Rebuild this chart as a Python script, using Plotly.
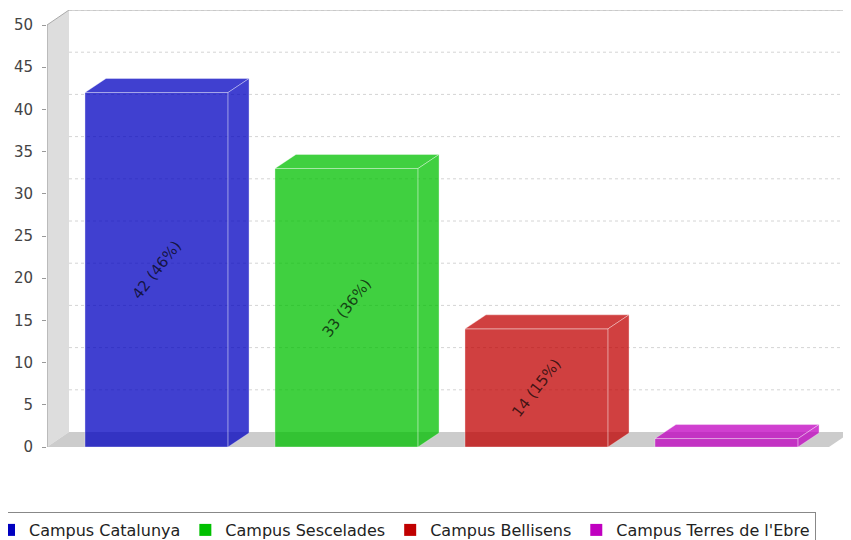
import plotly.graph_objects as go

# ---- data ----
categories = ["Campus Catalunya", "Campus Sescelades", "Campus Bellisens", "Campus Terres de l'Ebre"]
values = [42, 33, 14, 1]
y_ticks = [0, 5, 10, 15, 20, 25, 30, 35, 40, 45, 50]

# ---- styling ----
base_rgb = [(0, 0, 192), (0, 192, 0), (192, 0, 0), (192, 0, 192)]
ALPHA = 0.75
FONT = "DejaVu Sans"

# page offset of the plot div (browser default body margin)
OFF = 8
WIN_W, WIN_H = 851, 540
W, H = WIN_W - OFF, WIN_H - OFF

# screen-space layout targets
PLOT_LEFT, PLOT_TOP, PLOT_BOTTOM, PLOT_RIGHT = 47, 10, 447, 851
ML = PLOT_LEFT - OFF
MT = PLOT_TOP - OFF
MB = H - (PLOT_BOTTOM - OFF)
MR = W - (PLOT_RIGHT - OFF)
plot_w = W - ML - MR
plot_h = H - MT - MB

YMAX = y_ticks[-1]
WALL_DX_PX, WALL_DY_PX = 22, 15
BAR_DX_PX, BAR_DY_PX = 21, 14
CAT_PX = 190.0
FIRST_CENTER_PX = 156.5
BAR_W = 0.753
LEGEND_LEFT_PX, LEGEND_TOP_PX = -12, 512

y_top = YMAX * plot_h / (plot_h - WALL_DY_PX)
ppu_y = plot_h / y_top
x0 = -(FIRST_CENTER_PX - PLOT_LEFT) / CAT_PX
x1 = x0 + plot_w / CAT_PX
wdx = WALL_DX_PX / CAT_PX
wdy = WALL_DY_PX / ppu_y
bdx = BAR_DX_PX / CAT_PX
bdy = BAR_DY_PX / ppu_y

total = sum(values)

fig = go.Figure()

shapes = []
# left wall
shapes.append(dict(type="path", xref="x", yref="y", layer="below",
                   path=f"M{x0},0 L{x0},{YMAX} L{x0+wdx},{YMAX+wdy} L{x0+wdx},{wdy} Z",
                   fillcolor="#dddddd", line=dict(width=0)))
# floor
shapes.append(dict(type="path", xref="x", yref="y", layer="below",
                   path=f"M{x0},0 L{x1-wdx},0 L{x1},{wdy} L{x0+wdx},{wdy} Z",
                   fillcolor="#cccccc", line=dict(width=0)))
# back grid lines
for t in y_ticks[1:]:
    shapes.append(dict(type="line", xref="x", yref="y", layer="below",
                       x0=x0 + wdx, x1=x1, y0=t + wdy, y1=t + wdy,
                       line=dict(color="#d4d4d4", width=1, dash="3px,3px")))
# top border of back wall + diagonal
shapes.append(dict(type="line", xref="x", yref="y", layer="below",
                   x0=x0 + wdx, x1=x1, y0=YMAX + wdy, y1=YMAX + wdy,
                   line=dict(color="#aaaaaa", width=1)))
shapes.append(dict(type="line", xref="x", yref="y", layer="below",
                   x0=x0, x1=x0 + wdx, y0=YMAX, y1=YMAX + wdy,
                   line=dict(color="#aaaaaa", width=1)))
# front axis line
shapes.append(dict(type="line", xref="x", yref="y", layer="below",
                   x0=x0, x1=x0, y0=0, y1=YMAX,
                   line=dict(color="#999999", width=1)))

def rgba(c, a):
    return f"rgba({c[0]},{c[1]},{c[2]},{a})"

edge = "rgba(255,255,255,0.35)"

# front faces
fig.add_trace(go.Bar(
    x=list(range(len(values))), y=values, width=BAR_W,
    marker=dict(color=[rgba(c, ALPHA) for c in base_rgb], line=dict(color=edge, width=1)),
    showlegend=False, hoverinfo="skip"))

# top and side faces
for i, (v, c) in enumerate(zip(values, base_rgb)):
    xl, xr = i - BAR_W / 2, i + BAR_W / 2
    fig.add_trace(go.Scatter(
        x=[xl, xl + bdx, xr + bdx, xr, xl], y=[v, v + bdy, v + bdy, v, v],
        fill="toself", fillcolor=rgba(c, ALPHA), mode="lines",
        line=dict(color=edge, width=1), showlegend=False, hoverinfo="skip"))
    fig.add_trace(go.Scatter(
        x=[xr, xr, xr + bdx, xr + bdx, xr], y=[0, v, v + bdy, bdy, 0],
        fill="toself", fillcolor=rgba(c, ALPHA), mode="lines",
        line=dict(color=edge, width=1), showlegend=False, hoverinfo="skip"))

# legend entries
for name, c in zip(categories, base_rgb):
    fig.add_trace(go.Scatter(x=[None], y=[None], mode="markers", name=name,
                             marker=dict(symbol="square", size=12, color=rgba(c, 1))))

# value labels
annotations = []
for i, v in enumerate(values):
    pct = int(v * 100 // total)
    if v < 5:
        continue
    annotations.append(dict(x=i, y=v / 2, xref="x", yref="y", text=f"{v} ({pct}%)",
                            showarrow=False, textangle=-52,
                            font=dict(family=FONT, size=15, color="rgba(0,0,0,0.7)")))

fig.update_layout(
    width=W, height=H,
    margin=dict(l=ML, r=MR, t=MT, b=MB, autoexpand=False),
    paper_bgcolor="white", plot_bgcolor="white",
    shapes=shapes, annotations=annotations,
    xaxis=dict(range=[x0, x1], visible=False, fixedrange=True, automargin=False),
    yaxis=dict(range=[0, y_top], tickvals=y_ticks, showgrid=False, zeroline=False,
               showline=False, ticks="outside", ticklen=4, tickcolor="#999999",
               ticklabelstandoff=6, automargin=False,
               tickfont=dict(family=FONT, size=15, color="#444444"), fixedrange=True),
    showlegend=True,
    legend=dict(orientation="h", x=(LEGEND_LEFT_PX - PLOT_LEFT) / plot_w, xanchor="left",
                y=-(LEGEND_TOP_PX - PLOT_BOTTOM) / plot_h,
                yanchor="top", bordercolor="#888888", borderwidth=1,
                font=dict(family=FONT, size=16, color="#222222"),
                itemclick=False, itemdoubleclick=False),
    barmode="overlay",
)

fig.write_html("out.html")
